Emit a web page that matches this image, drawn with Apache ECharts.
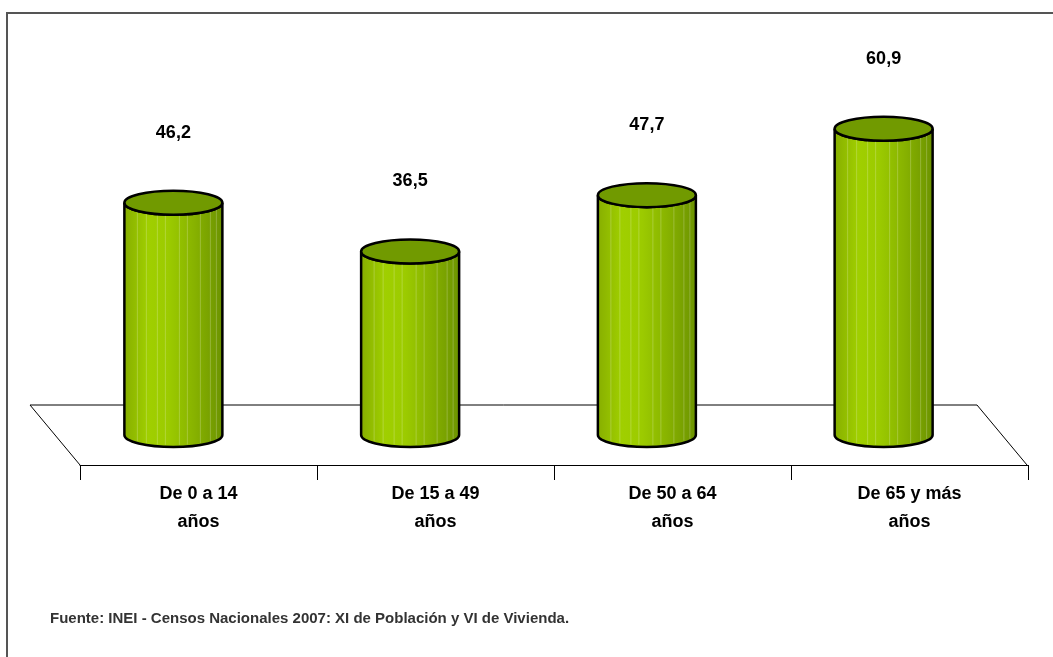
<!DOCTYPE html>
<html><head><meta charset="utf-8">
<script src="https://cdn.jsdelivr.net/npm/echarts@6/dist/echarts.min.js"></script>
<style>html,body{margin:0;padding:0;background:#fff}#c{width:1053px;height:657px}</style>
</head><body><div id="c"></div>
<script>
const categories = ['De 0 a 14\naños', 'De 15 a 49\naños', 'De 50 a 64\naños', 'De 65 y más\naños'];
const values = [46.2, 36.5, 47.7, 60.9];
const valueLabels = ['46,2', '36,5', '47,7', '60,9'];
const sourceNote = 'Fuente: INEI - Censos Nacionales 2007: XI de Población y VI de Vivienda.';

const FONT = '"Liberation Sans Narrow","Arial Narrow","Liberation Sans",Arial,sans-serif';
const DX = 25, DY = 30;   // half floor depth (mid plane -> front edge)
const RX = 49, RY = 12;   // cylinder radii

const chart = echarts.init(document.getElementById('c'), null, {renderer: 'canvas'});

function renderFloor(params, api) {
  const cs = params.coordSys;
  const y0 = api.coord([0, 0])[1];
  const xl = cs.x, xr = cs.x + cs.width;
  return {
    type: 'polyline',
    shape: {points: [[xl + DX, y0 + DY], [xl - DX, y0 - DY], [xr - DX, y0 - DY], [xr + DX, y0 + DY]]},
    style: {stroke: '#000', lineWidth: 1, fill: null},
    silent: true
  };
}

const stripeOffsets = [-36, -27, -16, -8, 6, 14, 27, 37, 43];

function renderCyl(params, api) {
  const i = api.value(0);
  const v = api.value(1);
  const base = api.coord([i, 0]);
  const top = api.coord([i, v]);
  const cx = base[0], by = base[1], ty = top[1];
  const l = cx - RX, r = cx + RX;
  const side = 'M' + l + ',' + ty + ' L' + l + ',' + by +
    ' A' + RX + ',' + RY + ' 0 0 0 ' + r + ',' + by +
    ' L' + r + ',' + ty +
    ' A' + RX + ',' + RY + ' 0 0 1 ' + l + ',' + ty + ' Z';
  const grad = new echarts.graphic.LinearGradient(0, 0, 1, 0, [
    {offset: 0, color: '#86ad00'},
    {offset: 0.25, color: '#a0cf00'},
    {offset: 0.45, color: '#9ccb00'},
    {offset: 0.7, color: '#88b300'},
    {offset: 1, color: '#6b9200'}
  ]);
  const children = [
    {type: 'path', shape: {pathData: side}, style: {fill: grad, stroke: '#000', lineWidth: 2.5}}
  ];
  stripeOffsets.forEach(function (o) {
    children.push({type: 'line', shape: {x1: cx + o, y1: ty + 2, x2: cx + o, y2: by + RY * Math.sqrt(Math.max(0, 1 - (o / RX) * (o / RX))) - 2},
      style: {stroke: 'rgba(255,255,255,0.22)', lineWidth: 1}});
  });
  children.push({type: 'ellipse', shape: {cx: cx, cy: ty, rx: RX, ry: RY},
    style: {fill: '#719a00', stroke: '#000', lineWidth: 2.5}});
  children.push({type: 'text', x: cx, y: ty - 70,
    style: {text: valueLabels[i], fill: '#000', font: 'bold 18px ' + FONT, align: 'center', verticalAlign: 'middle'}});
  return {type: 'group', children: children};
}

const option = {
  animation: false,
  backgroundColor: '#fff',
  title: {
    text: sourceNote, left: 50, top: 611, padding: 0,
    textStyle: {fontSize: 15, fontWeight: 'bold', color: '#333', fontFamily: FONT}
  },
  graphic: [{
    type: 'rect', shape: {x: 7, y: 13, width: 1200, height: 800},
    style: {fill: null, stroke: '#555', lineWidth: 2}, silent: true, z: -1
  }],
  grid: [
    {left: 55, right: 51, top: 83, bottom: 222},
    {left: 80, right: 25, top: 400, bottom: 192}
  ],
  xAxis: [
    {type: 'category', gridIndex: 0, data: categories, show: false, boundaryGap: true},
    {type: 'category', gridIndex: 1, data: categories, boundaryGap: true,
      axisLine: {show: true, lineStyle: {color: '#000', width: 1}},
      axisTick: {show: true, length: 15, interval: 0, lineStyle: {color: '#000'}},
      axisLabel: {interval: 0, margin: 15, color: '#000', fontSize: 18, fontWeight: 'bold', fontFamily: FONT, lineHeight: 28}}
  ],
  yAxis: [
    {type: 'value', gridIndex: 0, min: 0, max: 70, show: false},
    {type: 'value', gridIndex: 1, show: false}
  ],
  series: [
    {type: 'custom', xAxisIndex: 0, yAxisIndex: 0, data: [[0, 0]], renderItem: renderFloor, silent: true, z: 1},
    {type: 'custom', xAxisIndex: 0, yAxisIndex: 0, data: values.map(function (v, i) { return [i, v]; }),
      renderItem: renderCyl, z: 2, encode: {x: 0, y: 1}}
  ]
};
chart.setOption(option);
</script>
</body></html>
